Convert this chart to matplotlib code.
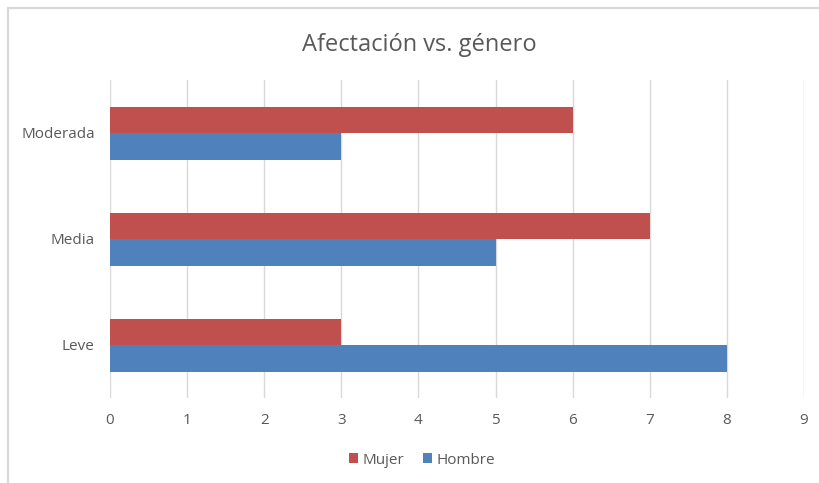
import numpy as np
import matplotlib.pyplot as plt
from matplotlib.patches import Rectangle

plt.rcParams['font.family'] = ['Open Sans', 'DejaVu Sans']

categorias = ['Leve', 'Media', 'Moderada']
mujer = [3, 7, 6]
hombre = [8, 5, 3]

rojo = '#C0504D'
azul = '#4F81BD'
gris = '#595959'

fig = plt.figure(figsize=(8.19, 4.83), dpi=100)
# chart border (cropped on the right and bottom like the screenshot)
fig.patches.append(Rectangle((8 / 819, -0.2), 1.2, 1.2 - 8 / 483,
                             transform=fig.transFigure, fill=False,
                             edgecolor='#D9D9D9', lw=1.6))

ax = fig.add_axes([110 / 819, 1 - 398 / 483, 694 / 819, 318 / 483])
y = np.arange(len(categorias))
h = 0.25
ax.barh(y + h / 2, mujer, height=h, color=rojo, label='Mujer', zorder=3)
ax.barh(y - h / 2, hombre, height=h, color=azul, label='Hombre', zorder=3)

ax.set_xlim(0, 9)
ax.set_ylim(-0.5, 2.5)
ax.set_xticks(range(10))
ax.set_yticks(y)
ax.set_yticklabels(categorias)
ax.grid(axis='x', color='#D9D9D9', lw=1, zorder=0)
for s in ax.spines.values():
    s.set_visible(False)
ax.tick_params(length=0, labelsize=11, labelcolor=gris, pad=11)

fig.text(419 / 819, 1 - 45 / 483, 'Afectación vs. género', ha='center',
         va='center', fontsize=17, color=gris)

fig.legend(loc='center', bbox_to_anchor=(422 / 819, 1 - 460 / 483), ncol=2,
           frameon=False, fontsize=11, labelcolor=gris, handlelength=0.6,
           handleheight=0.6, handletextpad=0.3, columnspacing=1.2)

fig.savefig('out.png', dpi=100)
